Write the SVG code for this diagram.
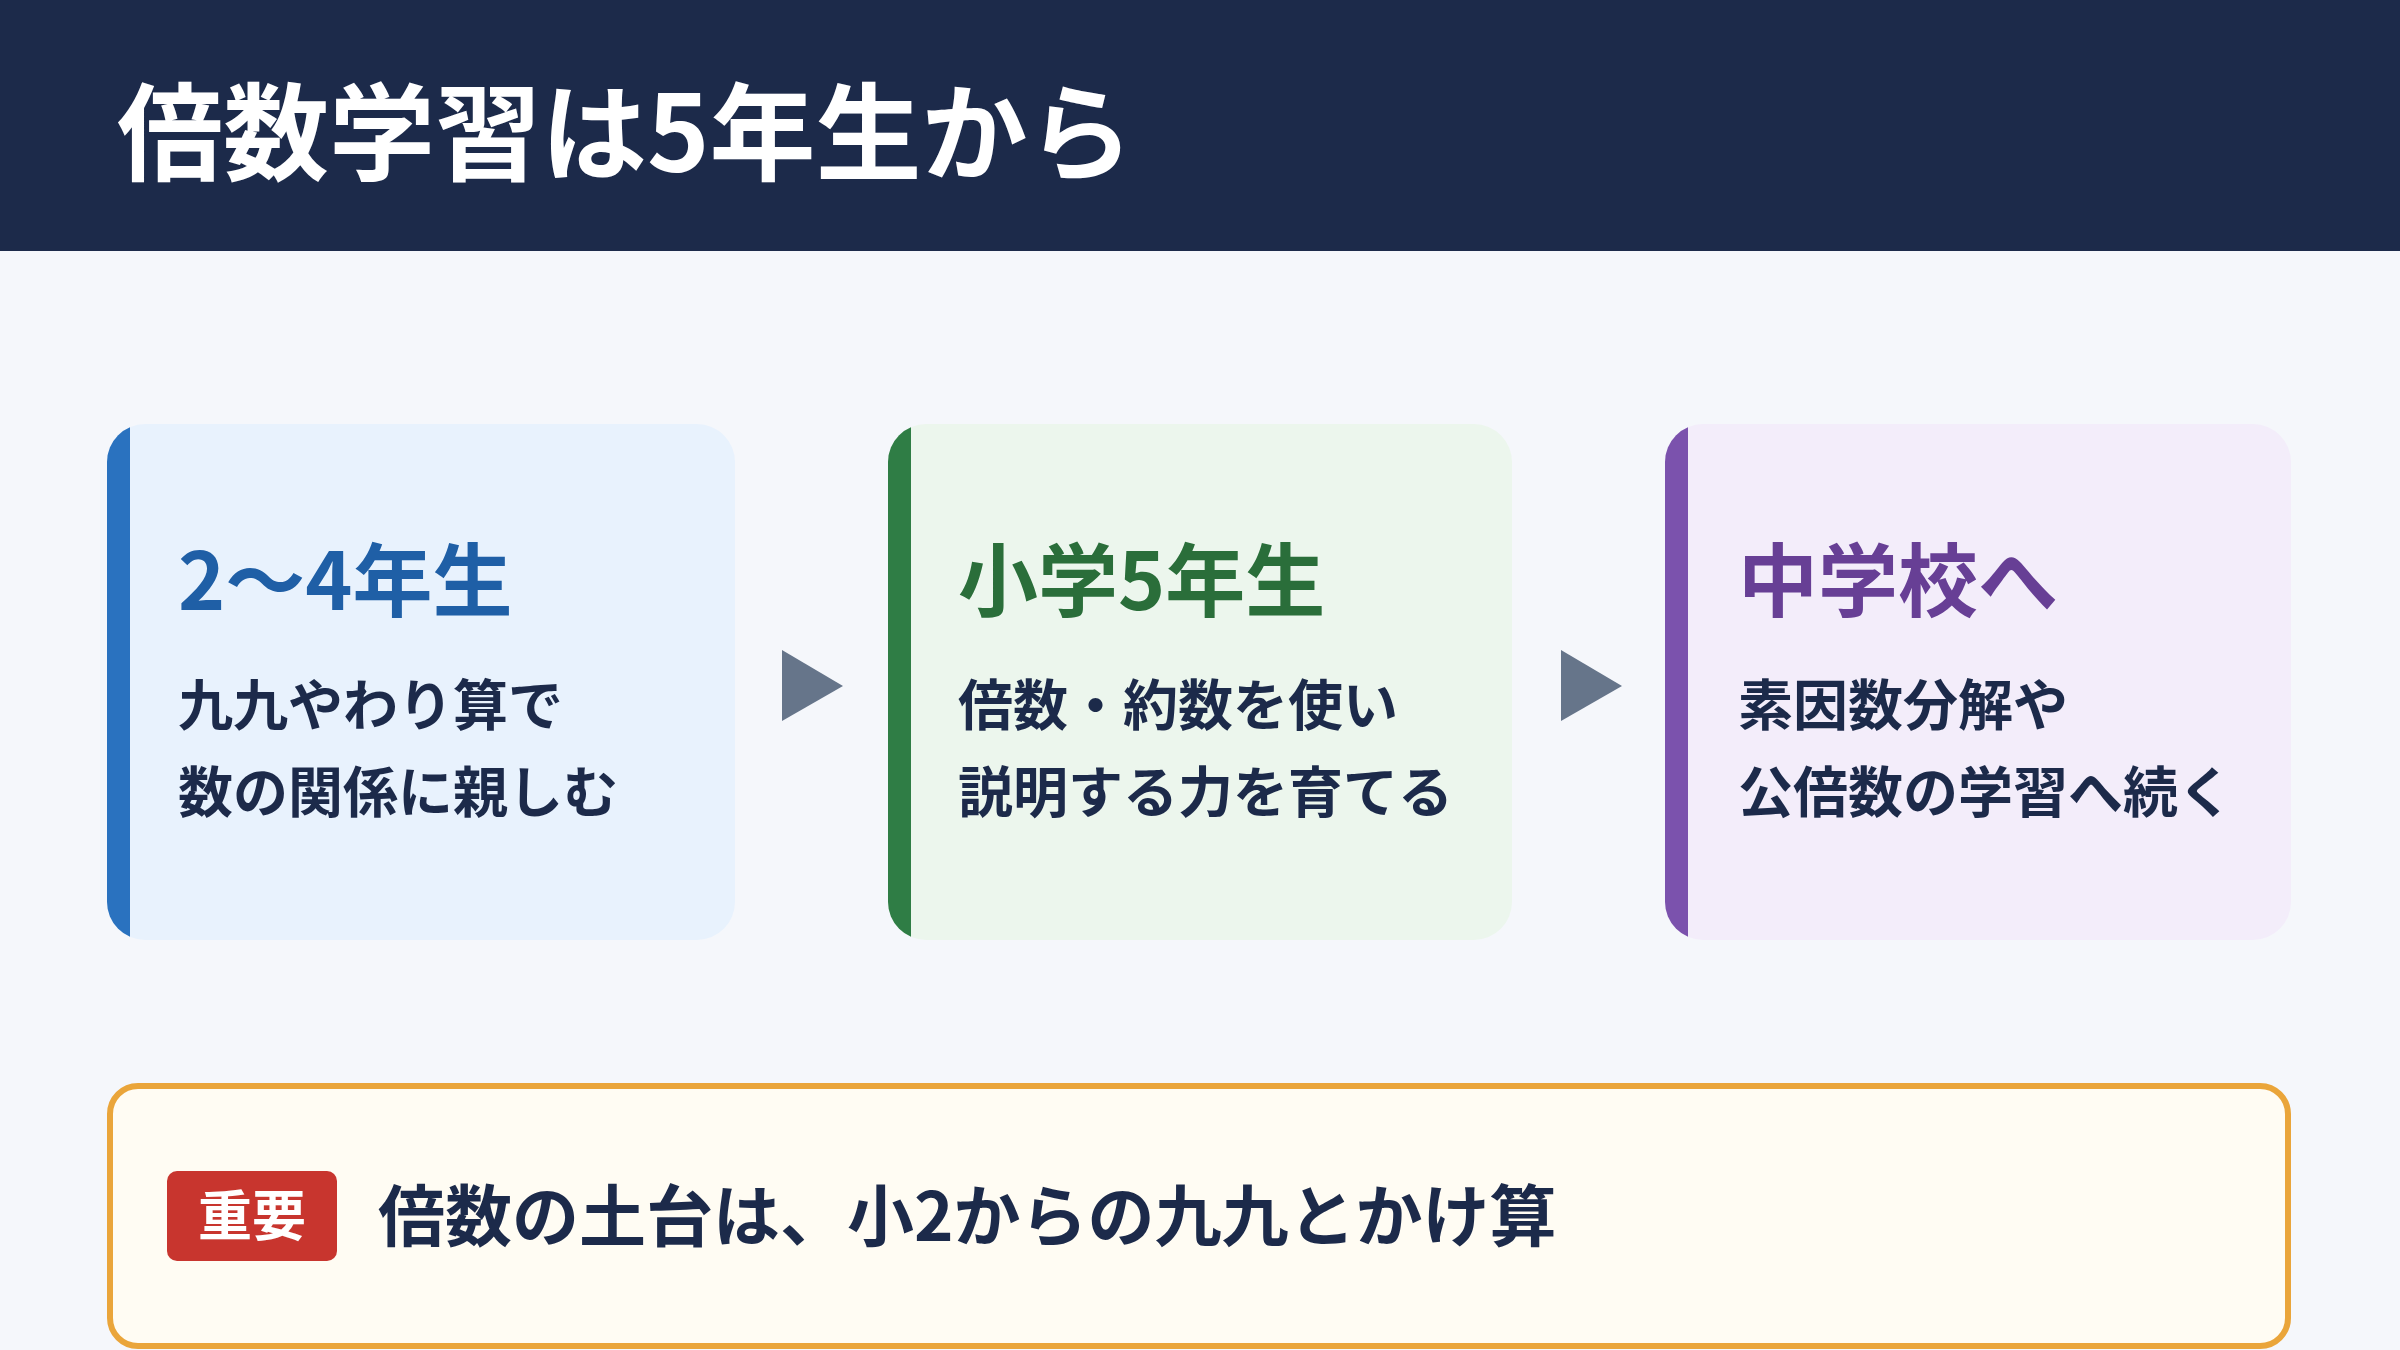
<svg xmlns="http://www.w3.org/2000/svg" width="2400" height="1350" viewBox="0 0 2400 1350">
<style>
text{font-family:"Noto Sans CJK JP","Noto Sans",sans-serif;font-weight:700}
.h{font-size:80px}
.b{font-size:55px;fill:#1c2a4a}
.arr{fill:#66758a}
</style>
<defs>
<clipPath id="c1"><rect x="107" y="424" width="628" height="516" rx="38"/></clipPath>
<clipPath id="c2"><rect x="888" y="424" width="624" height="516" rx="38"/></clipPath>
<clipPath id="c3"><rect x="1665" y="424" width="626" height="516" rx="38"/></clipPath>
</defs>
<rect width="2400" height="1350" fill="#f5f7fb"/>
<g id="header">
<rect width="2400" height="251" fill="#1c2a4a"/>
<text x="117" y="172" font-size="106" fill="#ffffff">倍数学習は5年生から</text>
</g>
<g id="card1">
<rect x="107" y="424" width="628" height="516" rx="38" fill="#e8f2fd"/>
<rect x="107" y="424" width="23" height="516" fill="#2a72bf" clip-path="url(#c1)"/>
<text class="h" x="178" y="610" fill="#1f5fa6">2〜4年生</text>
<text class="b" x="178" y="725">九九やわり算で</text>
<text class="b" x="178" y="812">数の関係に親しむ</text>
</g>
<g id="card2">
<rect x="888" y="424" width="624" height="516" rx="38" fill="#ecf6ed"/>
<rect x="888" y="424" width="23" height="516" fill="#2f7d45" clip-path="url(#c2)"/>
<text class="h" x="958" y="610" fill="#2a6e3a">小学5年生</text>
<text class="b" x="958" y="725">倍数・約数を使い</text>
<text class="b" x="958" y="812">説明する力を育てる</text>
</g>
<g id="card3">
<rect x="1665" y="424" width="626" height="516" rx="38" fill="#f3edfa"/>
<rect x="1665" y="424" width="23" height="516" fill="#7b52ad" clip-path="url(#c3)"/>
<text class="h" x="1738" y="610" fill="#673f95">中学校へ</text>
<text class="b" x="1738" y="725">素因数分解や</text>
<text class="b" x="1738" y="812">公倍数の学習へ続く</text>
</g>
<g id="connectors">
<polygon class="arr" points="782,650 843,686 782,721"/>
<polygon class="arr" points="1561,650 1622,686 1561,721"/>
</g>
<g id="note">
<rect x="110" y="1086" width="2178" height="260" rx="28" fill="#fffcf3" stroke="#eaa53a" stroke-width="6"/>
<rect x="167" y="1171" width="170" height="90" rx="10" fill="#c8352e"/>
<text x="252" y="1236" font-size="54" fill="#ffffff" text-anchor="middle">重要</text>
<text x="378" y="1241" font-size="67" fill="#1c2a4a">倍数の土台は、小2からの九九とかけ算</text>
</g>
</svg>
